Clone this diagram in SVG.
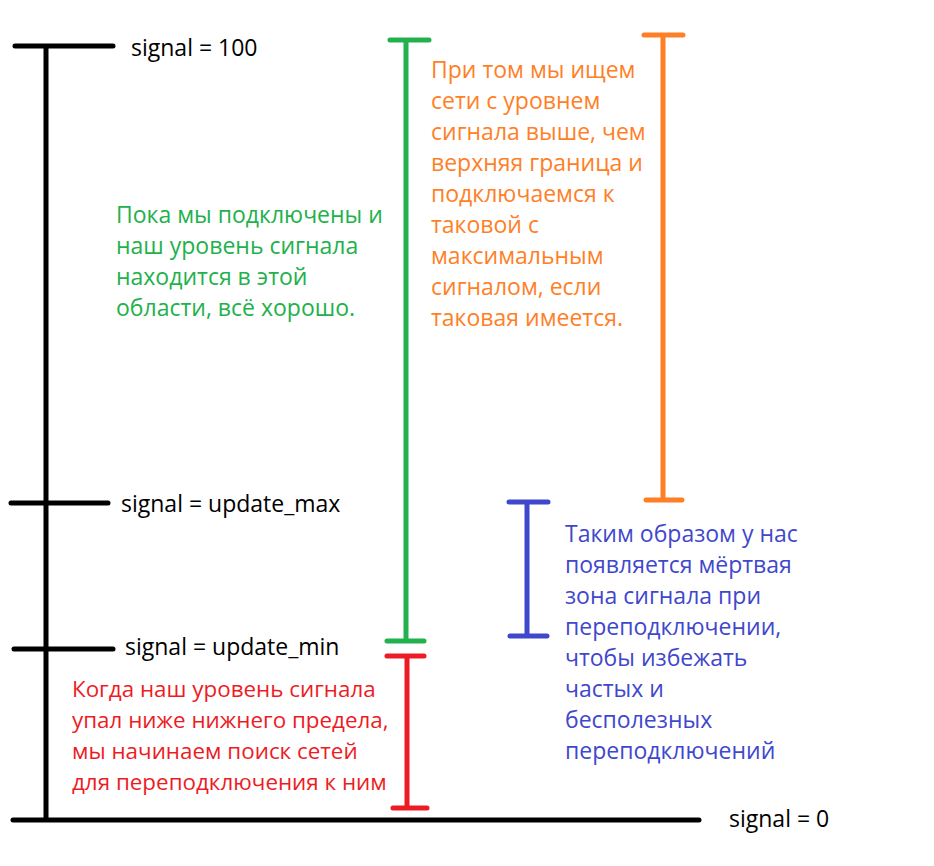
<svg xmlns="http://www.w3.org/2000/svg" width="934" height="866" viewBox="0 0 934 866">
<style>
text{font-family:"Open Sans","Noto Sans","Liberation Sans",sans-serif;font-size:23px}
.k{stroke:#000;stroke-width:5;stroke-linecap:round;fill:none}
.g{stroke:#22b14c;stroke-width:5;stroke-linecap:round;fill:none}
.o{stroke:#ff7f27;stroke-width:5;stroke-linecap:round;fill:none}
.b{stroke:#3f48cc;stroke-width:5;stroke-linecap:round;fill:none}
.r{stroke:#ed1c24;stroke-width:5;stroke-linecap:round;fill:none}
.tk{fill:#000}.tg{fill:#22b14c}.to{fill:#ff7f27}.tb{fill:#3f48cc}.tr{fill:#ed1c24;font-size:22.4px}
</style>
<rect width="934" height="866" fill="#fff"/>
<g id="axis">
<path class="k" d="M46 46V820M15 46H113M11 503H108M14 649H113M13 820H699"/>
<text class="tk" x="131" y="56">signal = 100</text>
<text class="tk" x="121" y="512">signal = update_max</text>
<text class="tk" x="125" y="655">signal = update_min</text>
<text class="tk" x="729" y="827">signal = 0</text>
</g>
<g id="green">
<path class="g" d="M406 40V641M390 40H429M387 641H424"/>
<text class="tg"><tspan x="116" y="223">Пока мы подключены и</tspan><tspan x="116" y="254">наш уровень сигнала</tspan><tspan x="116" y="285">находится в этой</tspan><tspan x="116" y="316">области, всё хорошо.</tspan></text>
</g>
<g id="orange">
<path class="o" d="M663 35V500M644 35H683M646 500H682"/>
<text class="to"><tspan x="431" y="78">При том мы ищем</tspan><tspan x="431" y="109">сети с уровнем</tspan><tspan x="431" y="140">сигнала выше, чем</tspan><tspan x="431" y="171">верхняя граница и</tspan><tspan x="431" y="202">подключаемся к</tspan><tspan x="431" y="233">таковой с</tspan><tspan x="431" y="264">максимальным</tspan><tspan x="431" y="295">сигналом, если</tspan><tspan x="431" y="326">таковая имеется.</tspan></text>
</g>
<g id="blue">
<path class="b" d="M527 502V636M509 502H548M510 636H547"/>
<text class="tb"><tspan x="565" y="542">Таким образом у нас</tspan><tspan x="565" y="573">появляется мёртвая</tspan><tspan x="565" y="604">зона сигнала при</tspan><tspan x="565" y="635">переподключении,</tspan><tspan x="565" y="666">чтобы избежать</tspan><tspan x="565" y="697">частых и</tspan><tspan x="565" y="728">бесполезных</tspan><tspan x="565" y="759">переподключений</tspan></text>
</g>
<g id="red">
<path class="r" d="M407 656V808M387 656H424M393 808H427"/>
<text class="tr"><tspan x="72" y="697">Когда наш уровень сигнала</tspan><tspan x="72" y="728">упал ниже нижнего предела,</tspan><tspan x="72" y="759">мы начинаем поиск сетей</tspan><tspan x="72" y="790">для переподключения к ним</tspan></text>
</g>
</svg>
